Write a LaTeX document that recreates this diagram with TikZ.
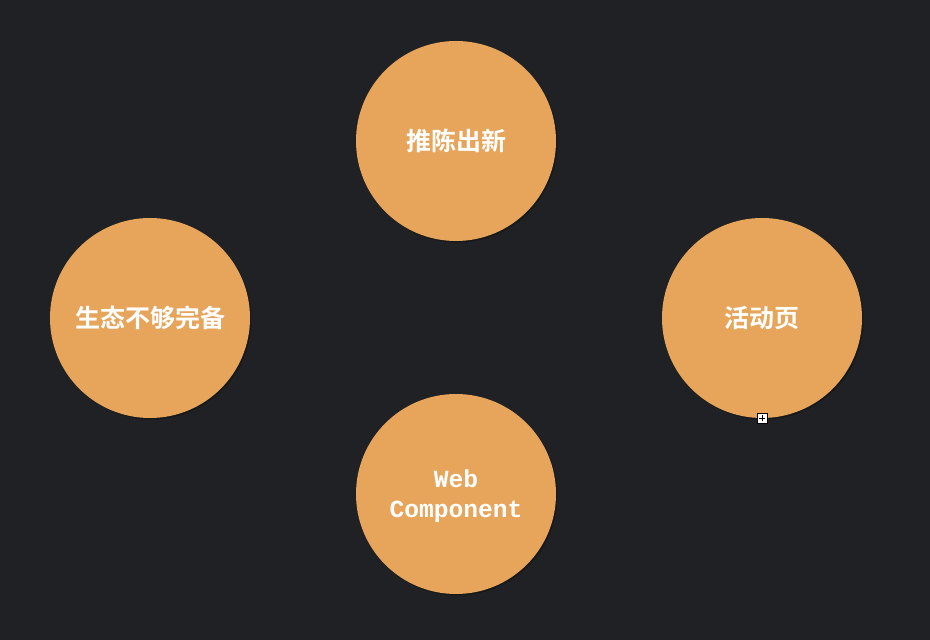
\documentclass[tikz,border=0pt]{standalone}
\usepackage{fontspec}
\newfontfamily\cjk{Noto Sans CJK SC}[BoldFont={Noto Sans CJK SC Bold}]
\newfontfamily\mono{Liberation Mono}
\definecolor{bg}{HTML}{202124}
\definecolor{orng}{HTML}{E6A55A}
\definecolor{shd}{HTML}{141516}
\begin{document}
\begin{tikzpicture}[x=1pt,y=1pt,
  bubble/.style={circle,fill=orng,minimum size=200pt,inner sep=0pt,text=white,align=center},
  shadowc/.style={circle,fill=shd,minimum size=200pt,inner sep=0pt,opacity=0.7}]
\fill[bg] (0,0) rectangle (930,640);
\useasboundingbox (0,0) rectangle (930,640);
% shadows
\node[shadowc] at (151.5,320.5) {};
\node[shadowc] at (457.5,497.5) {};
\node[shadowc] at (763.5,320.5) {};
\node[shadowc] at (457.5,144.5) {};
% circles
\node[bubble] (top) at (456,499) {};
\node[bubble] (left) at (150,322) {};
\node[bubble] (right) at (762,322) {};
\node[bubble] (bottom) at (456,146) {};
% labels
\node[text=white,font=\cjk\bfseries\fontsize{25}{28}\selectfont] (ttop) at (top.center) {推陈出新};
\node[text=white,font=\cjk\bfseries\fontsize{25}{28}\selectfont] (tleft) at (left.center) {生态不够完备};
\node[text=white,font=\cjk\bfseries\fontsize{25}{28}\selectfont] (tright) at (right.center) {活动页};
\node[text=white,align=center,font=\mono\bfseries\fontsize{24.6}{30}\selectfont] (tbottom) at ([yshift=-2pt]bottom.center) {Web\\Component};
% handle icon
\node[draw=black,fill=white,minimum size=10pt,inner sep=0pt,line width=0.8pt] (handle) at (762,222) {};
\draw[black,line width=0.8pt] ([xshift=-3pt]handle.center) -- ([xshift=3pt]handle.center);
\draw[black,line width=0.8pt] ([yshift=-3pt]handle.center) -- ([yshift=3pt]handle.center);
\end{tikzpicture}
\end{document}
